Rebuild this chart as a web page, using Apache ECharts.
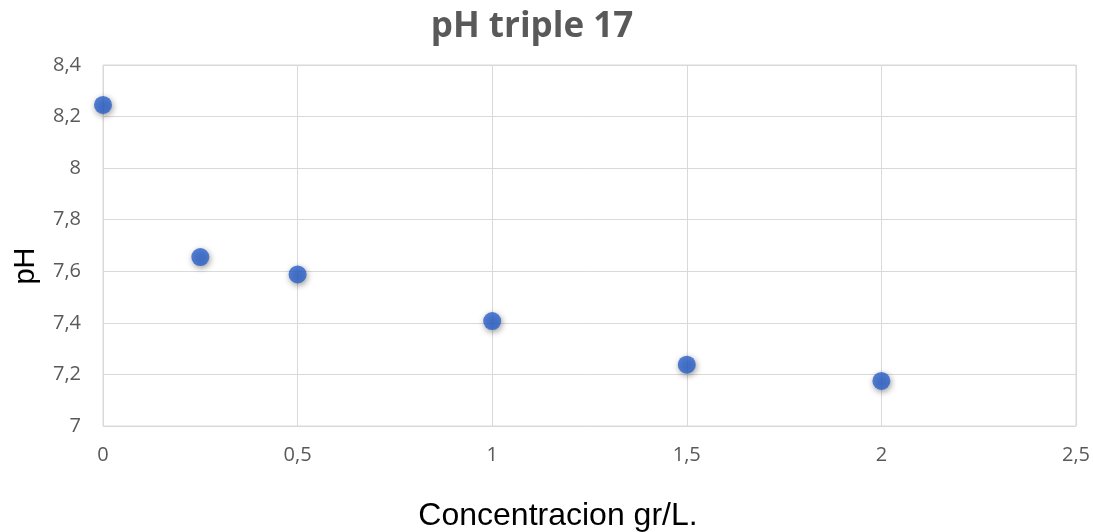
<!DOCTYPE html>
<html><head><meta charset="utf-8">
<script src="https://cdn.jsdelivr.net/npm/echarts@6/dist/echarts.min.js"></script>
<style>html,body{margin:0;padding:0;background:#fff}#c{width:1093px;height:532px}</style>
</head><body><div id="c"></div>
<script>
const concentration = [0, 0.25, 0.5, 1, 1.5, 2];
const phValues = [8.245, 7.655, 7.588, 7.407, 7.238, 7.175];
const chart = echarts.init(document.getElementById('c'), null, {renderer: 'canvas'});
const fmt = v => String(v).replace('.', ',');
chart.setOption({
  backgroundColor: '#fff',
  animation: false,
  title: {text: 'pH triple 17', left: 527, top: 5, textAlign: 'center',
    textStyle: {fontFamily: 'Open Sans', fontWeight: 'bold', fontSize: 35, color: '#595959'}},
  grid: {left: 103, right: 15, top: 65, bottom: 106, show: true, borderColor: '#d9d9d9', borderWidth: 1},
  graphic: [
    {type: 'text', x: 558, y: 516, style: {text: 'Concentracion gr/L.', font: '32px "Liberation Sans"', fill: '#000', textAlign: 'center', textVerticalAlign: 'middle'}},
    {type: 'text', x: 26, y: 266, rotation: Math.PI / 2, style: {text: 'pH', font: '29px "Liberation Sans"', fill: '#000', textAlign: 'center', textVerticalAlign: 'middle'}}
  ],
  xAxis: {type: 'value', min: 0, max: 2.5, interval: 0.5,
    axisLine: {show: false}, axisTick: {show: false},
    axisLabel: {formatter: fmt, fontFamily: 'Open Sans', fontSize: 20, color: '#595959', margin: 19},
    splitLine: {lineStyle: {color: '#d9d9d9', width: 1}}},
  yAxis: {type: 'value', min: 7, max: 8.4, interval: 0.2,
    axisLine: {show: false}, axisTick: {show: false},
    axisLabel: {formatter: v => fmt(Math.round(v*10)/10), fontFamily: 'Open Sans', fontSize: 20, color: '#595959', margin: 22},
    splitLine: {lineStyle: {color: '#d9d9d9', width: 1}}},
  series: [{type: 'scatter', data: concentration.map((x, i) => [x, phValues[i]]),
    symbolSize: 18,
    itemStyle: {color: '#2a62cc', shadowColor: 'rgba(0,0,0,0.5)', shadowBlur: 6, shadowOffsetX: 1, shadowOffsetY: 2}}]
});
</script></body></html>
